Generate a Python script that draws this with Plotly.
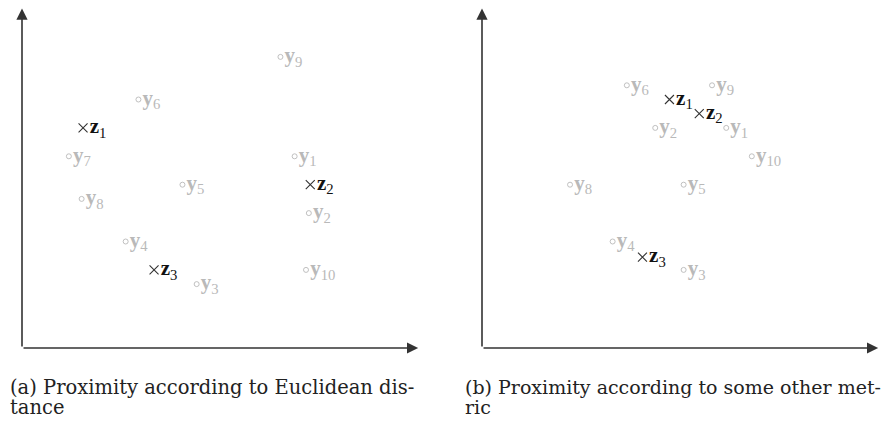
import plotly.graph_objects as go

# ---- data (grid units) ----
a_y_names = ["1", "2", "3", "4", "5", "6", "7", "8", "9", "10"]
a_y_x = [19.2, 20.2, 12.3, 7.3, 11.3, 8.2, 3.3, 4.2, 18.2, 20.0]
a_y_y = [13.5, 9.5, 4.5, 7.5, 11.5, 17.5, 13.5, 10.5, 20.5, 5.5]
a_z_names = ["1", "2", "3"]
a_z_x = [4.3, 20.3, 9.3]
a_z_y = [15.5, 11.5, 5.5]

b_y_names = ["1", "2", "3", "4", "5", "6", "8", "9", "10"]
b_y_x = [17.2, 12.2, 14.2, 9.2, 14.2, 10.2, 6.2, 16.2, 19.0]
b_y_y = [15.5, 15.5, 5.5, 7.5, 11.5, 18.5, 11.5, 18.5, 13.5]
b_z_names = ["1", "2", "3"]
b_z_x = [13.2, 15.3, 11.3]
b_z_y = [17.5, 16.5, 6.4]

captions = [["(a) Proximity according to Euclidean dis-", "tance"],
            ["(b) Proximity according to some other met-", "ric"]]
axis_len_x = 27.9
axis_len_y = 23.9

# page has an 8px body margin; figure coordinates = page coordinates - 8
OFF = 8
W, H = 895 - 2 * OFF, 424 - 2 * OFF
U = 14.2  # px per unit
SERIF = "Liberation Serif"
CAPFONT = "DejaVu Serif"
GRAY = "#b9b9b9"
DARK = "#222222"

fig = go.Figure()

panels = [
    dict(xa="x", ya="y", ox=22 - OFF, yn=a_y_names, yx=a_y_x, yy=a_y_y, zn=a_z_names, zx=a_z_x, zy=a_z_y),
    dict(xa="x2", ya="y2", ox=482 - OFF, yn=b_y_names, yx=b_y_x, yy=b_y_y, zn=b_z_names, zx=b_z_x, zy=b_z_y),
]
split = (447 - OFF) / W
doms = [[0, split], [split, 1]]
oy = 348 - OFF

for i, p in enumerate(panels):
    fig.add_trace(go.Scatter(
        x=p["yx"], y=p["yy"], xaxis=p["xa"], yaxis=p["ya"], mode="markers+text",
        marker=dict(symbol="circle-open", size=5, color=GRAY, line=dict(width=0.9, color=GRAY)),
        text=["<b>y</b><sub>%s</sub>" % n for n in p["yn"]], textposition="middle right",
        textfont=dict(family=SERIF, size=21, color=GRAY), showlegend=False, cliponaxis=False))
    fig.add_trace(go.Scatter(
        x=p["zx"], y=p["zy"], xaxis=p["xa"], yaxis=p["ya"], mode="markers+text",
        marker=dict(symbol="x-thin-open", size=9, color="#333", line=dict(width=1.1, color="#333")),
        text=["<b>z</b><sub>%s</sub>" % n for n in p["zn"]], textposition="middle right",
        textfont=dict(family=SERIF, size=21, color="#111"), showlegend=False, cliponaxis=False))
    # axes arrows
    for (x0, y0, x1, y1) in [(0, 0, axis_len_x, 0), (0, 0, 0, axis_len_y)]:
        fig.add_annotation(x=x1, y=y1, ax=x0, ay=y0, xref=p["xa"], yref=p["ya"],
                           axref=p["xa"], ayref=p["ya"], showarrow=True, text="",
                           arrowhead=2, arrowsize=1.4, arrowwidth=1.6, arrowcolor="#333")
    dom = doms[i]
    x_lo = (dom[0] * W - p["ox"]) / U
    x_hi = (dom[1] * W - p["ox"]) / U
    key = "xaxis" if i == 0 else "xaxis2"
    ykey = "yaxis" if i == 0 else "yaxis2"
    fig.update_layout(**{
        key: dict(domain=dom, range=[x_lo, x_hi], visible=False, fixedrange=True, anchor=p["ya"]),
        ykey: dict(domain=[0, 1], range=[-(H - oy) / U, oy / U], visible=False, fixedrange=True, anchor=p["xa"]),
    })

cap_x = [0, 463 - OFF]
cap_y = [387 - OFF, 407 - OFF]
cap_size = [19.5, 19]
for i, lines in enumerate(captions):
    for j, line in enumerate(lines):
        fig.add_annotation(x=cap_x[i] / W, y=1 - cap_y[j] / H, xref="paper", yref="paper",
                           text=line, showarrow=False, xanchor="left", yanchor="middle",
                           font=dict(family=CAPFONT, size=cap_size[i], color=DARK))

fig.update_layout(width=W, height=H, margin=dict(l=0, r=0, t=0, b=0),
                  plot_bgcolor="white", paper_bgcolor="white")
fig.write_html("out.html")
